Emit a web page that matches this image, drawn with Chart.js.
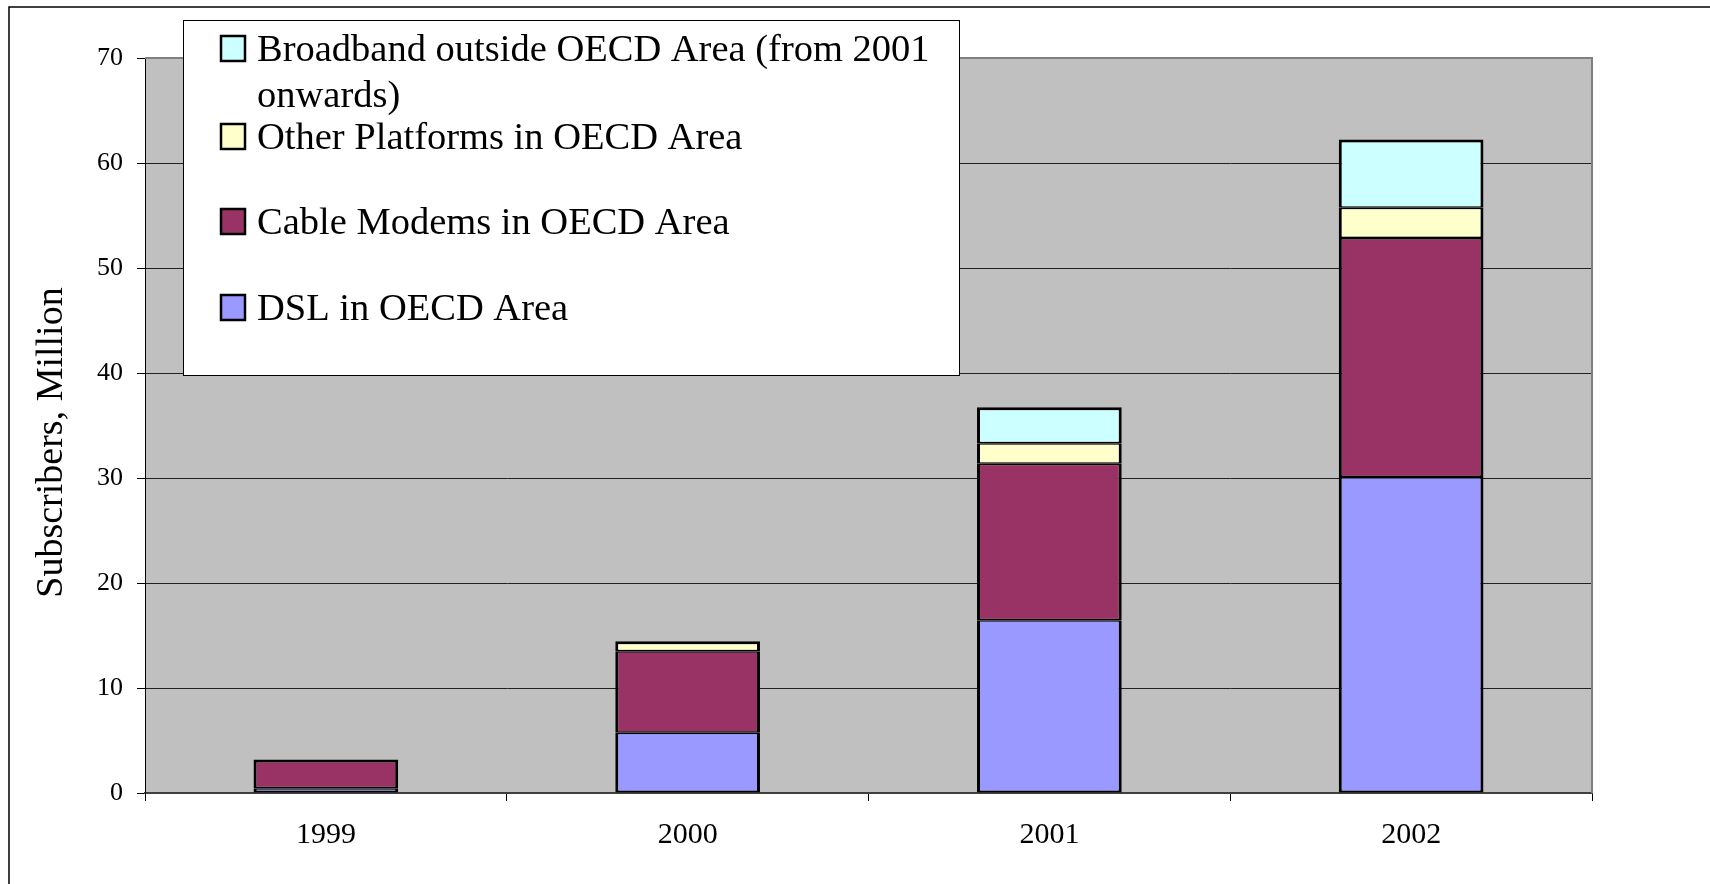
<!DOCTYPE html>
<html>
<head>
<meta charset="utf-8">
<script src="https://cdn.jsdelivr.net/npm/chart.js@4.4.1/dist/chart.umd.min.js"></script>
<style>
  html, body { margin: 0; padding: 0; background: #ffffff; }
  #wrap { width: 1710px; height: 884px; position: relative; }
</style>
</head>
<body>
<div id="wrap"><canvas id="chart" width="1710" height="884"></canvas></div>
<script>
// Broadband subscribers, millions
const years = ['1999', '2000', '2001', '2002'];
const dslOECD = [0.45, 5.75, 16.45, 30.1];
const cableOECD = [2.75, 7.75, 14.9, 22.75];
const otherOECD = [null, 0.95, 1.95, 2.9];
const outsideOECD = [null, null, 3.45, 6.5];
const yTicks = [0, 10, 20, 30, 40, 50, 60, 70];
const yTitle = 'Subscribers, Million';

const seriesNames = [
  'DSL in OECD Area',
  'Cable Modems in OECD Area',
  'Other Platforms in OECD Area',
  'Broadband outside OECD Area (from 2001 onwards)'
];
const seriesColors = ['#9999FF', '#993366', '#FFFFCC', '#CCFFFF'];
const seriesValues = [dslOECD, cableOECD, otherOECD, outsideOECD];

const SERIF = '"Liberation Serif", "Times New Roman", serif';

// grey plot background, drawn before the grid
const plotBackground = {
  id: 'plotBackground',
  beforeDraw(chart) {
    const { ctx, chartArea: a } = chart;
    ctx.save();
    ctx.fillStyle = '#C0C0C0';
    ctx.fillRect(a.left, a.top, a.right - a.left, a.bottom - a.top);
    ctx.restore();
  }
};

// plot frame, outer chart frame, axis title and the boxed legend
const decorations = {
  id: 'decorations',
  afterDraw(chart) {
    const { ctx, chartArea: a } = chart;
    ctx.save();
    // plot area frame (top and right edges)
    ctx.strokeStyle = '#808080';
    ctx.lineWidth = 2;
    ctx.beginPath();
    ctx.moveTo(a.left, a.top);
    ctx.lineTo(a.right, a.top);
    ctx.lineTo(a.right, a.bottom);
    ctx.stroke();

    // outer chart frame
    ctx.strokeStyle = '#000000';
    ctx.lineWidth = 1.5;
    ctx.beginPath();
    ctx.moveTo(9, 884);
    ctx.lineTo(9, 7);
    ctx.lineTo(1710, 7);
    ctx.stroke();

    // value axis title, set slightly below the plot's middle
    ctx.save();
    ctx.translate(52, a.top + (a.bottom - a.top) / 2 + 17);
    ctx.rotate(-Math.PI / 2);
    ctx.font = '38px ' + SERIF;
    ctx.fillStyle = '#000000';
    ctx.textAlign = 'center';
    ctx.textBaseline = 'middle';
    ctx.fillText(yTitle, 0, 0);
    ctx.restore();

    // legend box
    const box = { x: 183, y: 20, w: 776, h: 355 };
    ctx.fillStyle = '#ffffff';
    ctx.fillRect(box.x, box.y, box.w, box.h);
    ctx.strokeStyle = '#000000';
    ctx.lineWidth = 1;
    ctx.strokeRect(box.x + 0.5, box.y + 0.5, box.w, box.h);

    const entries = [
      { idx: 3, lines: ['Broadband outside OECD Area (from 2001', 'onwards)'], base: 61 },
      { idx: 2, lines: ['Other Platforms in OECD Area'], base: 149 },
      { idx: 1, lines: ['Cable Modems in OECD Area'], base: 234 },
      { idx: 0, lines: ['DSL in OECD Area'], base: 320 }
    ];
    ctx.font = '38.5px ' + SERIF;
    ctx.textAlign = 'left';
    ctx.textBaseline = 'alphabetic';
    entries.forEach(e => {
      ctx.fillStyle = seriesColors[e.idx];
      ctx.fillRect(221, e.base - 25, 24, 25);
      ctx.strokeStyle = '#000000';
      ctx.lineWidth = 2.5;
      ctx.strokeRect(221, e.base - 25, 24, 25);
      ctx.fillStyle = '#000000';
      e.lines.forEach((t, i) => ctx.fillText(t, 257, e.base + i * 46));
    });
    ctx.restore();
  }
};

// outlines: sides 3px, shared segment edges split 1.5 + 1.5, top of each stack 3px
function segmentBorder(c) {
  const d = c.datasetIndex, i = c.dataIndex;
  let topmost = true;
  for (let k = d + 1; k < seriesValues.length; k++) {
    if (seriesValues[k][i] !== null && seriesValues[k][i] !== undefined) { topmost = false; break; }
  }
  return { left: 3, right: 3, top: topmost ? 3 : 1.5, bottom: d === 0 ? 2 : 1.5 };
}

const datasets = seriesValues.map((vals, i) => ({
  label: seriesNames[i],
  data: vals,
  backgroundColor: seriesColors[i],
  borderColor: '#000000',
  borderWidth: segmentBorder,
  borderSkipped: false,
  barPercentage: 0.4,
  categoryPercentage: 1.0,
  stack: 'total'
}));

new Chart(document.getElementById('chart'), {
  type: 'bar',
  data: { labels: years, datasets },
  options: {
    responsive: false,
    animation: false,
    devicePixelRatio: 1,
    layout: { padding: { top: 58, right: 118, bottom: 0, left: 0 } },
    plugins: {
      legend: { display: false },
      title: { display: false },
      tooltip: { enabled: false }
    },
    scales: {
      x: {
        stacked: true,
        offset: true,
        grid: {
          offset: true,
          drawOnChartArea: false,
          drawTicks: true,
          tickLength: 8,
          color: '#000000'
        },
        border: { display: true, color: '#404040', width: 2 },
        ticks: {
          color: '#000000',
          font: { family: SERIF, size: 30 },
          padding: 16,
          maxRotation: 0
        },
        afterFit(scale) { scale.height = 91; }
      },
      y: {
        stacked: true,
        min: yTicks[0],
        max: yTicks[yTicks.length - 1],
        afterBuildTicks(scale) { scale.ticks = yTicks.map(v => ({ value: v })); },
        grid: {
          color: ctx => (ctx.tick && ctx.tick.value === 0) ? 'rgba(0,0,0,0)' : '#202020',
          tickColor: '#000000',
          tickLength: 8,
          lineWidth: 1
        },
        border: { display: true, color: '#000000', width: 1 },
        ticks: {
          color: '#000000',
          font: { family: SERIF, size: 26 },
          padding: 14
        },
        title: { display: false },
        afterFit(scale) { scale.width = 145; }
      }
    }
  },
  plugins: [plotBackground, decorations]
});
</script>
</body>
</html>
